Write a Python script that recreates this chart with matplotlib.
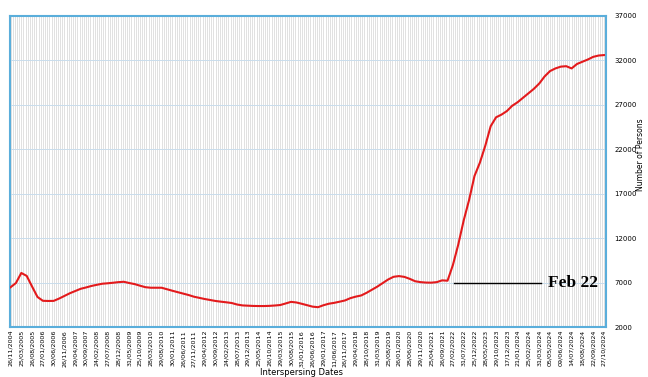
import numpy as np
import matplotlib.pyplot as plt
from matplotlib.ticker import MultipleLocator

# category labels shown on the x axis (every 5th category)
date_labels = ['26/11/2004', '25/03/2005', '26/08/2005', '27/01/2006', '30/06/2006', '26/11/2006',
               '29/04/2007', '30/09/2007', '24/02/2008', '27/07/2008', '28/12/2008', '31/05/2009',
               '25/10/2009', '28/03/2010', '29/08/2010', '30/01/2011', '26/06/2011', '27/11/2011',
               '29/04/2012', '30/09/2012', '24/02/2013', '28/07/2013', '29/12/2013', '25/05/2014',
               '26/10/2014', '29/03/2015', '30/08/2015', '31/01/2016', '26/06/2016', '29/01/2017',
               '11/06/2017', '26/11/2017', '29/04/2018', '28/10/2018', '31/03/2019', '25/08/2019',
               '26/01/2020', '28/06/2020', '29/11/2020', '25/04/2021', '26/09/2021', '27/02/2022',
               '31/07/2022', '25/12/2022', '28/05/2023', '29/10/2023', '17/12/2023', '21/01/2024',
               '25/02/2024', '31/03/2024', '05/05/2024', '09/06/2024', '14/07/2024', '18/08/2024',
               '22/09/2024', '27/10/2024']

# number of persons, read at every half label step
persons = [6470, 6950, 8080, 7750, 6550, 5380, 4950, 4930, 4940, 5200,
           5500, 5800, 6050, 6300, 6450, 6620, 6750, 6870, 6920, 6980,
           7050, 7090, 6950, 6830, 6650, 6480, 6420, 6420, 6420, 6250,
           6080, 5920, 5760, 5600, 5410, 5280, 5150, 5040, 4930, 4850,
           4780, 4700, 4530, 4430, 4400, 4370, 4360, 4360, 4380, 4420,
           4475, 4650, 4830, 4760, 4610, 4450, 4290, 4230, 4450, 4620,
           4720, 4850, 4990, 5250, 5420, 5550, 5850, 6200, 6550, 6950,
           7350, 7650, 7730, 7640, 7420, 7150, 7050, 7000, 6990, 7050,
           7250, 7210, 8980, 11300, 14000, 16300, 19000, 20500, 22400, 24600,
           25600, 25900, 26300, 26900, 27300, 27800, 28300, 28800, 29400, 30200,
           30800, 31100, 31300, 31350, 31100, 31600, 31850, 32100, 32400, 32550,
           32600]

y_ticks = [2000, 7000, 12000, 17000, 22000, 27000, 32000, 37000]
marker_label = 'Feb 22'
marker_date = '27/02/2022'
marker_level = 7000

x = np.arange(len(persons)) * 0.5

fig = plt.figure(figsize=(6.48, 3.77), dpi=100)
ax = fig.add_axes([0.0154, 0.1326, 0.920, 0.825])

ax.plot(x, persons, color='#e31a1c', linewidth=1.5, zorder=3)

# annotation line for Feb 22
start = date_labels.index(marker_date)
ax.plot([start + 0.1, 49.2], [marker_level, marker_level], color='black', linewidth=1, zorder=3)
ax.text(49.8, marker_level, marker_label, fontsize=12.5, fontweight='bold',
        family='Liberation Serif', va='center', ha='left')

ax.set_xlim(-0.05, 55.2)
ax.set_ylim(y_ticks[0], y_ticks[-1])
ax.set_xticks(np.arange(len(date_labels)))
ax.set_xticklabels(date_labels, rotation=90, fontsize=4.6)
ax.xaxis.set_minor_locator(MultipleLocator(0.2))
ax.set_yticks(y_ticks)
ax.yaxis.tick_right()
ax.tick_params(axis='y', labelsize=5, length=0, pad=6)
ax.tick_params(axis='x', which='both', length=0, pad=2)

ax.grid(True, axis='x', which='both', color='#d4d4d4', linewidth=0.5)
ax.grid(True, axis='y', which='major', color='#c9dcec', linewidth=0.7)
ax.set_axisbelow(True)

for s in ax.spines.values():
    s.set_color('#5aaedb')
    s.set_linewidth(1.5)

fig.text(0.988, 0.59, 'Number of Persons', rotation=90, fontsize=5.5, ha='center', va='center')
fig.text(0.465, 0.012, 'Interspersing Dates', fontsize=6, ha='center', va='center')

fig.savefig('out.png', dpi=100)
